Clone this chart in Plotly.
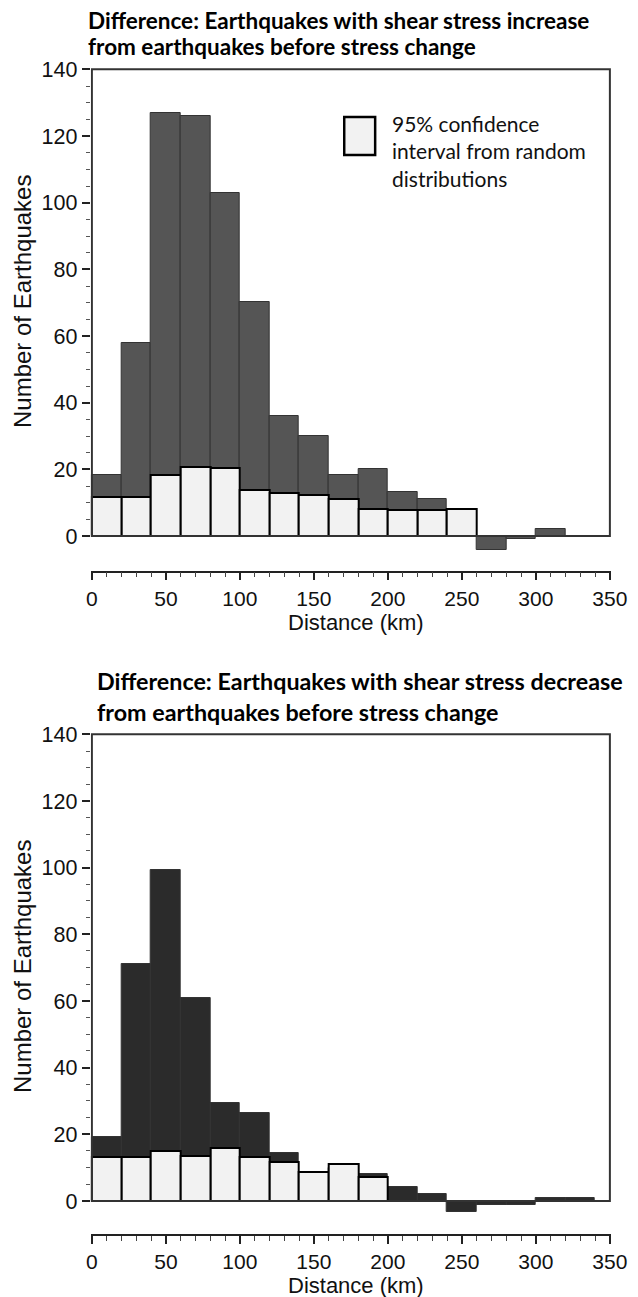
import plotly.graph_objects as go

# ---- data ----
bin_left = [0, 20, 40, 60, 80, 100, 120, 140, 160, 180, 200, 220, 240, 260, 280, 300, 320]
bin_width = 20

inc_diff = [18.3, 58, 127, 126, 103, 70.3, 36, 30.1, 18.3, 20, 13.1, 11.1, 7, -4.1, -0.9, 2.2, 0]
inc_ci = [11.8, 11.8, 18.3, 20.6, 20.3, 13.9, 13.0, 12.3, 11.1, 8.0, 7.9, 7.9, 8.1, 0, 0, 0, 0]

dec_diff = [19.1, 71, 99.2, 61, 29.3, 26.3, 14.3, 8, 10, 8.1, 4.1, 2.0, -3.3, -1.2, -1.2, 1.0, 1.0]
dec_ci = [13.3, 13.3, 15.1, 13.5, 15.8, 13.3, 11.6, 8.6, 11.1, 7.1, 0, 0, 0, 0, 0, 0, 0]

title_top = ["Difference: Earthquakes with shear stress increase",
             "from earthquakes before stress change"]
title_bot = ["Difference: Earthquakes with shear stress decrease",
             "from earthquakes before stress change"]
legend_text = "95% confidence<br>interval from random<br>distributions"
x_title = "Distance (km)"
y_title = "Number of Earthquakes"

y_major = [0, 20, 40, 60, 80, 100, 120, 140]
y_minor = [v for v in range(5, 140, 5) if v % 20 != 0]
x_major = [0, 50, 100, 150, 200, 250, 300, 350]
x_minor = [v for v in range(10, 350, 10) if v % 50 != 0]

centers = [b + bin_width / 2 for b in bin_left]

W, H = 638, 1297
def py(px):
    return 1 - px / H
def pxx(px):
    return px / W

fig = go.Figure()

panels = [
    ("x", "y", inc_diff, inc_ci, "#555555", [-10.4, 141], [py(570.7), py(66)]),
    ("x2", "y2", dec_diff, dec_ci, "#2b2b2b", [-10.0, 141], [py(1234.3), py(731)]),
]

for xa, ya, diff, ci, dcol, yr, dom in panels:
    fig.add_trace(go.Bar(x=centers, y=diff, width=bin_width, xaxis=xa, yaxis=ya,
                         marker=dict(color=dcol, line=dict(color="#333333", width=1)),
                         showlegend=False, hoverinfo="skip"))
    fig.add_trace(go.Bar(x=centers, y=ci, width=bin_width, xaxis=xa, yaxis=ya,
                         marker=dict(color="#f2f2f2", line=dict(color="#000000", width=2)),
                         showlegend=False, hoverinfo="skip"))

tickfont = dict(family="Liberation Sans, Arial, sans-serif", size=21.5, color="#111")
xtickfont = dict(family="Liberation Sans, Arial, sans-serif", size=21, color="#111")
titlefont = dict(family="Liberation Sans, Arial, sans-serif", size=22, color="#111")

xdom = [90.7 / W, (90.7 + 351.6 * 1.48) / W]

def xaxis_cfg(anchor):
    return dict(domain=xdom, range=[-0.8, 350.8], anchor=anchor, automargin=False,
                tickmode="array", tickvals=x_major, ticks="outside", ticklen=8,
                tickwidth=1.5, tickcolor="#222", showline=True, linecolor="#222",
                linewidth=1.5, showgrid=False, zeroline=False, tickfont=xtickfont,
                minor=dict(tickmode="array", tickvals=x_minor, ticks="outside",
                           ticklen=5, tickwidth=1, tickcolor="#444"))

def yaxis_cfg(anchor, yr, dom):
    return dict(domain=dom, range=yr, anchor=anchor, automargin=False,
                tickmode="array", tickvals=y_major, ticks="outside", ticklen=8,
                tickwidth=1.5, tickcolor="#222", showline=False, showgrid=False,
                zeroline=False, tickfont=tickfont,
                minor=dict(tickmode="array", tickvals=y_minor, ticks="outside",
                           ticklen=4, tickwidth=1, tickcolor="#555"))

fig.update_layout(
    width=W, height=H, margin=dict(l=0, r=0, t=0, b=0, autoexpand=False),
    paper_bgcolor="white", plot_bgcolor="white", barmode="overlay", bargap=0,
    xaxis=xaxis_cfg("y"), yaxis=yaxis_cfg("x", panels[0][5], panels[0][6]),
    xaxis2=xaxis_cfg("y2"), yaxis2=yaxis_cfg("x2", panels[1][5], panels[1][6]),
)

# frames
for xr, yr_ in (("x", "y"), ("x2", "y2")):
    fig.add_shape(type="rect", xref=xr, yref=yr_, x0=0, x1=350, y0=0, y1=140,
                  line=dict(color="#333", width=2), fillcolor="rgba(0,0,0,0)", layer="above")

# axis titles as annotations
for ycen, xlab_y in ((302, 623), (967, 1285)):
    fig.add_annotation(xref="paper", yref="paper", x=pxx(22), y=py(ycen), text=y_title,
                       textangle=-90, showarrow=False, xanchor="center", yanchor="middle",
                       font=dict(titlefont, size=24))
    fig.add_annotation(xref="paper", yref="paper", x=pxx(356), y=py(xlab_y), text=x_title,
                       showarrow=False, xanchor="center", yanchor="middle", font=titlefont)

# legend box & text (top panel)
fig.add_shape(type="rect", xref="x", yref="y", x0=170.5, x1=191.4, y0=114.3, y1=125.7,
              line=dict(color="#000", width=2.5), fillcolor="#f2f2f2", layer="above")
fig.add_annotation(xref="x", yref="y", x=201.6, y=115.5, xanchor="left", yanchor="middle",
                   text=legend_text, showarrow=False, align="left",
                   font=dict(family="Lato, sans-serif", size=21, color="#111"))

# titles (one annotation per line)
for lines, x0, ys, size in ((title_top, 86, (20, 46), 22.5), (title_bot, 95, (681, 712), 23.3)):
    for txt, yc in zip(lines, ys):
        fig.add_annotation(xref="paper", yref="paper", x=pxx(x0), y=py(yc), xanchor="left",
                           yanchor="middle", text="<b>" + txt + "</b>", showarrow=False,
                           font=dict(family="Lato, sans-serif", size=size, color="#000"))

fig.write_html("out.html")
